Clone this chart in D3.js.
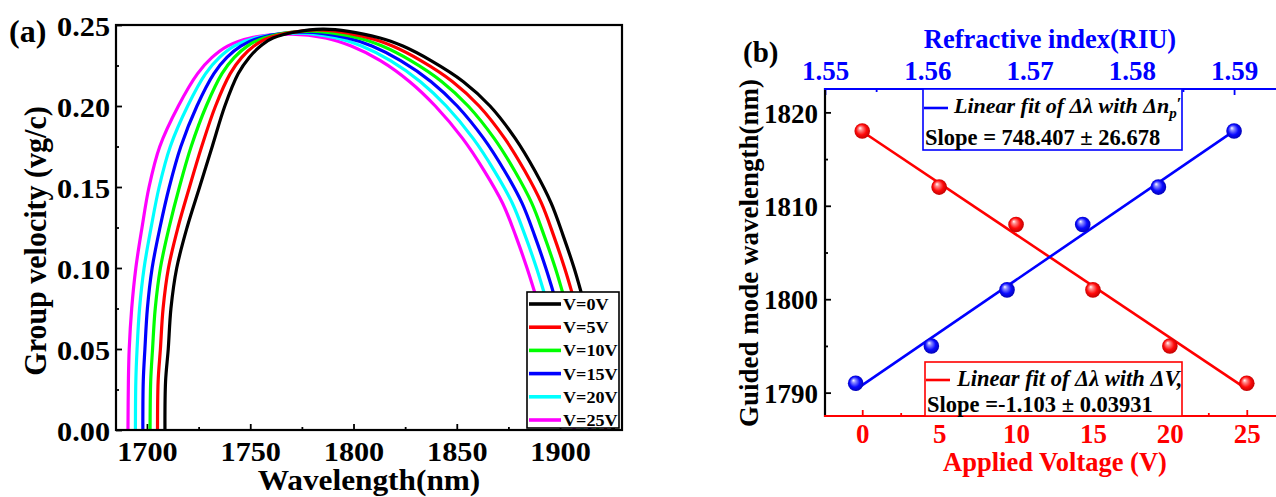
<!DOCTYPE html>
<html>
<head>
<meta charset="utf-8">
<script src="https://cdn.jsdelivr.net/npm/d3@7"></script>
<style>
  body { margin: 0; background: #fff; }
  svg text { font-family: "Liberation Serif", "Times New Roman", serif; font-weight: bold; }
</style>
</head>
<body>
<svg id="chart" width="1276" height="497"></svg>
<script>
// ---------- Panel (a): group velocity vs wavelength ----------
const seriesLabels = ["V=0V", "V=5V", "V=10V", "V=15V", "V=20V", "V=25V"];
const seriesColors = ["#000000", "#ff0000", "#00ff00", "#0000ff", "#00ffff", "#ff00ff"];

// group velocity levels sampled on the rising and falling branches
const vgRise = [0, 0.03, 0.05, 0.075, 0.10, 0.125, 0.15, 0.175, 0.20, 0.22, 0.23, 0.237, 0.242];
const vgFall = [0.242, 0.237, 0.228, 0.215, 0.20, 0.18, 0.16, 0.14, 0.12, 0.10, 0.086, 0.05, 0];

// wavelength (nm) at each rising-branch level
const riseNm0V  = [1708.7, 1709.0, 1710.3, 1711.6, 1714.4, 1719.4, 1725.5, 1731.6, 1737.7, 1744.2, 1749.5, 1755.0, 1761.0];
const riseNm5V  = [1705.1, 1705.4, 1706.5, 1707.8, 1710.4, 1715.0, 1720.6, 1726.5, 1733.2, 1740.3, 1745.9, 1751.8, 1758.8];
const riseNm10V = [1701.5, 1701.8, 1702.7, 1704.0, 1706.5, 1710.7, 1715.7, 1721.4, 1728.7, 1736.3, 1742.3, 1748.6, 1756.6];
const riseNm15V = [1698.0, 1698.2, 1699.0, 1700.2, 1702.5, 1706.3, 1710.8, 1716.4, 1724.2, 1732.4, 1738.7, 1745.4, 1754.4];
const riseNm20V = [1694.4, 1694.6, 1695.2, 1696.4, 1698.6, 1702.0, 1705.9, 1711.3, 1719.7, 1728.4, 1735.1, 1742.2, 1752.2];
const riseNm25V = [1690.8, 1691.0, 1691.4, 1692.6, 1694.6, 1697.6, 1701.0, 1706.2, 1715.2, 1724.5, 1731.5, 1739.0, 1750.0];

// peak of each curve
const peakNm = [1785, 1782, 1779, 1776, 1773, 1770];
const peakVg = [0.2475, 0.2469, 0.2462, 0.2456, 0.2449, 0.2443];

// wavelength (nm) at each falling-branch level
const fallNm0V  = [1812.9, 1823.9, 1837.5, 1853.2, 1866.1, 1878.3, 1887.8, 1895.7, 1901.5, 1906.8, 1910.0, 1917.5, 1926.0];
const fallNm5V  = [1807.6, 1818.9, 1832.6, 1848.0, 1860.8, 1873.2, 1882.9, 1891.0, 1896.9, 1902.2, 1905.5, 1913.3, 1922.2];
const fallNm10V = [1802.3, 1813.9, 1827.7, 1842.8, 1855.5, 1868.1, 1878.0, 1886.3, 1892.3, 1897.7, 1901.0, 1909.1, 1918.4];
const fallNm15V = [1797.0, 1808.9, 1822.8, 1837.6, 1850.2, 1863.0, 1873.1, 1881.6, 1887.7, 1893.1, 1896.5, 1904.9, 1914.6];
const fallNm20V = [1791.7, 1803.9, 1817.9, 1832.4, 1844.9, 1857.9, 1868.2, 1876.9, 1883.1, 1888.6, 1892.0, 1900.7, 1910.8];
const fallNm25V = [1786.4, 1798.9, 1813.0, 1827.2, 1839.6, 1852.8, 1863.3, 1872.2, 1878.5, 1884.0, 1887.5, 1896.5, 1907.0];

const riseNm = [riseNm0V, riseNm5V, riseNm10V, riseNm15V, riseNm20V, riseNm25V];
const fallNm = [fallNm0V, fallNm5V, fallNm10V, fallNm15V, fallNm20V, fallNm25V];

const vgTicks = [0, 0.05, 0.10, 0.15, 0.20, 0.25];
const vgMinor = [0.025, 0.075, 0.125, 0.175, 0.225];
const nmTicks = [1700, 1750, 1800, 1850, 1900];
const nmMinor = [1725, 1775, 1825, 1875, 1925];

// ---------- Panel (b): guided mode wavelength ----------
const appliedVoltage = [0, 5, 10, 15, 20, 25];
const wavelengthByVoltage = [1818, 1812, 1808, 1801, 1795, 1791];
const refractiveIndex = [1.5530, 1.5604, 1.5678, 1.5752, 1.5826, 1.5900];
const wavelengthByIndex = [1791, 1795, 1801, 1808, 1812, 1818];
const slopeVoltage = -1.103;
const slopeIndex = 748.407;

const voltageTicks = [0, 5, 10, 15, 20, 25];
const voltageMinor = [2.5, 7.5, 12.5, 17.5, 22.5];
const indexTicks = [1.55, 1.56, 1.57, 1.58, 1.59];
const indexMinor = [1.555, 1.565, 1.575, 1.585];
const guidedTicks = [1790, 1800, 1810, 1820];
const guidedMinor = [1795, 1805, 1815];

const svg = d3.select("#chart");
const defs = svg.append("defs");

// widen glyphs horizontally about their anchor point
function widen(sel, sx) {
  sel.each(function () {
    const t = d3.select(this);
    const x = +t.attr("x") || 0, y = +t.attr("y") || 0;
    t.attr("transform", `translate(${x},${y}) scale(${sx},1) translate(${-x},${-y})`);
  });
}

function tickAxis(g, gen, color, width) {
  g.call(gen);
  g.select(".domain").remove();
  g.selectAll(".tick line").attr("stroke", color).attr("stroke-width", width);
  g.selectAll(".tick text").attr("fill", color);
}

// =============== Panel (a) ===============
const xa = d3.scaleLinear().domain([1685, 1930]).range([116, 622]);
const ya = d3.scaleLinear().domain([0, 0.25]).range([430, 25]);
const A_SX = 1.08;

const pa = svg.append("g");

// minor ticks
pa.append("g").attr("transform", "translate(116,0)")
  .call(g => tickAxis(g, d3.axisLeft(ya).tickValues(vgMinor).tickSize(-3).tickFormat(""), "#000", 1.8));
pa.append("g").attr("transform", "translate(0,430)")
  .call(g => tickAxis(g, d3.axisBottom(xa).tickValues(nmMinor.filter(d => d < 1930)).tickSize(-3).tickFormat(""), "#000", 1.8));

// major ticks + labels
const yAxisA = pa.append("g").attr("transform", "translate(116,0)")
  .call(g => tickAxis(g, d3.axisLeft(ya).tickValues(vgTicks).tickSize(-6).tickPadding(6).tickFormat(d3.format(".2f")), "#000", 1.8));
yAxisA.selectAll(".tick text").attr("font-size", 28).attr("dy", "0.36em").call(widen, A_SX);

const xAxisA = pa.append("g").attr("transform", "translate(0,430)")
  .call(g => tickAxis(g, d3.axisBottom(xa).tickValues(nmTicks).tickSize(-6).tickFormat(d3.format("d")), "#000", 1.8));
xAxisA.selectAll(".tick text").attr("font-size", 28).attr("y", 31).attr("dy", 0).call(widen, A_SX);

// curves
const lineA = d3.line().x(d => xa(d[0])).y(d => ya(d[1])).curve(d3.curveCatmullRom.alpha(0.5));
const curves = seriesLabels.map((lab, i) => {
  const pts = riseNm[i].map((nm, k) => [nm, vgRise[k]]);
  pts.push([peakNm[i], peakVg[i]]);
  fallNm[i].forEach((nm, k) => pts.push([nm, vgFall[k]]));
  return { lab, color: seriesColors[i], pts };
});
pa.append("defs").append("clipPath").attr("id", "clipA")
  .append("rect").attr("x", 116).attr("y", 25).attr("width", 506).attr("height", 405);
pa.append("g").attr("clip-path", "url(#clipA)")
  .selectAll("path").data(curves.slice().reverse()).join("path")
  .attr("d", d => lineA(d.pts))
  .attr("fill", "none").attr("stroke", d => d.color).attr("stroke-width", 3.2);

// frame
pa.append("rect").attr("x", 116).attr("y", 25).attr("width", 506).attr("height", 405)
  .attr("fill", "none").attr("stroke", "#000").attr("stroke-width", 2.2);

// legend
const legA = pa.append("g");
legA.append("rect").attr("x", 527).attr("y", 292).attr("width", 92).attr("height", 136)
  .attr("fill", "#fff").attr("stroke", "#000").attr("stroke-width", 1.6);
seriesLabels.forEach((lab, i) => {
  const y = 304 + i * 23.2;
  legA.append("line").attr("x1", 529).attr("x2", 561).attr("y1", y).attr("y2", y)
    .attr("stroke", seriesColors[i]).attr("stroke-width", 3.6);
  legA.append("text").attr("x", 563).attr("y", y).attr("dy", "0.36em")
    .attr("font-size", 16.5).text(lab).call(widen, 1.1);
});

// titles
pa.append("text").attr("x", 9).attr("y", 42).attr("font-size", 32).text("(a)");
pa.append("text").attr("x", 369).attr("y", 490).attr("text-anchor", "middle")
  .attr("font-size", 29).text("Wavelength(nm)").call(widen, A_SX);
pa.append("text")
  .attr("transform", "translate(46,241) scale(1.08,1) rotate(-90)")
  .attr("text-anchor", "middle").attr("font-size", 30).text("Group velocity (vg/c)");

// =============== Panel (b) ===============
const xv = d3.scaleLinear().domain([-2.42, 26.9]).range([825, 1276]);
const xn = d3.scaleLinear().domain([1.55, 1.5941]).range([825, 1276]);
const yb = d3.scaleLinear().domain([1787.5, 1822.5]).range([416, 89]);
const RED = "#ff0000", BLUE = "#0000ff";

const pb = svg.append("g");

// left axis
pb.append("g").attr("transform", "translate(825,0)")
  .call(g => tickAxis(g, d3.axisLeft(yb).tickValues(guidedMinor).tickSize(-3).tickFormat(""), "#000", 1.8));
pb.append("g").attr("transform", "translate(825,0)")
  .call(g => tickAxis(g, d3.axisLeft(yb).tickValues(guidedTicks).tickSize(-6).tickPadding(7).tickFormat(d3.format("d")), "#000", 1.8))
  .selectAll(".tick text").attr("font-size", 27).attr("dy", "0.36em");

// bottom (voltage) axis
pb.append("g").attr("transform", "translate(0,416)")
  .call(g => tickAxis(g, d3.axisBottom(xv).tickValues(voltageMinor).tickSize(-3).tickFormat(""), RED, 1.8));
pb.append("g").attr("transform", "translate(0,416)")
  .call(g => tickAxis(g, d3.axisBottom(xv).tickValues(voltageTicks).tickSize(-6).tickFormat(d3.format("d")), RED, 1.8))
  .selectAll(".tick text").attr("font-size", 27).attr("y", 27).attr("dy", 0);

// top (refractive index) axis
pb.append("g").attr("transform", "translate(0,89)")
  .call(g => tickAxis(g, d3.axisTop(xn).tickValues(indexMinor).tickSize(-3).tickFormat(""), BLUE, 1.8));
pb.append("g").attr("transform", "translate(0,89)")
  .call(g => tickAxis(g, d3.axisTop(xn).tickValues(indexTicks).tickSize(-6).tickFormat(d3.format(".2f")), BLUE, 1.8))
  .selectAll(".tick text").attr("font-size", 27).attr("y", -9).attr("dy", 0);

// axis lines
pb.append("line").attr("x1", 825).attr("x2", 825).attr("y1", 88).attr("y2", 417)
  .attr("stroke", "#000").attr("stroke-width", 2.2);
pb.append("line").attr("x1", 824).attr("x2", 1276).attr("y1", 89).attr("y2", 89)
  .attr("stroke", BLUE).attr("stroke-width", 2.2);
pb.append("line").attr("x1", 824).attr("x2", 1276).attr("y1", 416).attr("y2", 416)
  .attr("stroke", RED).attr("stroke-width", 2.2);

// legend boxes
const legB1 = pb.append("g");
legB1.append("rect").attr("x", 923).attr("y", 89).attr("width", 259).attr("height", 61)
  .attr("fill", "#fff").attr("stroke", BLUE).attr("stroke-width", 1.6);
legB1.append("line").attr("x1", 924).attr("x2", 948).attr("y1", 108).attr("y2", 108)
  .attr("stroke", BLUE).attr("stroke-width", 2.6);
const tB1 = legB1.append("text").attr("x", 954).attr("y", 113).attr("font-size", 22).attr("font-style", "italic");
tB1.append("tspan").text("Linear fit of Δλ with Δn");
tB1.append("tspan").attr("font-size", 15).attr("dy", 5).text("p");
tB1.append("tspan").attr("font-size", 17).attr("dy", -9).attr("font-style", "normal").text("′");
legB1.append("text").attr("x", 925).attr("y", 145).attr("font-size", 22.5).text("Slope = 748.407 ± 26.678");

const legB2 = pb.append("g");
legB2.append("rect").attr("x", 925).attr("y", 362).attr("width", 257).attr("height", 54)
  .attr("fill", "#fff").attr("stroke", RED).attr("stroke-width", 1.6);
legB2.append("line").attr("x1", 926).attr("x2", 950).attr("y1", 380).attr("y2", 380)
  .attr("stroke", RED).attr("stroke-width", 2.6);
legB2.append("text").attr("x", 957).attr("y", 386).attr("font-size", 22.5).attr("font-style", "italic")
  .text("Linear fit of Δλ with ΔV,");
legB2.append("text").attr("x", 927).attr("y", 412).attr("font-size", 22.5).text("Slope =-1.103 ± 0.03931");

// fit lines with the stated slopes, through the centroid of the points
const fitV = x => d3.mean(wavelengthByVoltage) + slopeVoltage * (x - d3.mean(appliedVoltage));
const fitN = x => d3.mean(wavelengthByIndex) + slopeIndex * (x - d3.mean(refractiveIndex));
const vExt = d3.extent(appliedVoltage), nExt = d3.extent(refractiveIndex);

pb.append("line")
  .attr("x1", xv(vExt[0])).attr("y1", yb(fitV(vExt[0])))
  .attr("x2", xv(vExt[1])).attr("y2", yb(fitV(vExt[1])))
  .attr("stroke", RED).attr("stroke-width", 2.6);
pb.append("line")
  .attr("x1", xn(nExt[0])).attr("y1", yb(fitN(nExt[0])))
  .attr("x2", xn(nExt[1])).attr("y2", yb(fitN(nExt[1])))
  .attr("stroke", BLUE).attr("stroke-width", 2.6);

// shaded sphere markers
function sphere(id, light, mid, dark) {
  const g = defs.append("radialGradient").attr("id", id)
    .attr("cx", "50%").attr("cy", "50%").attr("r", "55%").attr("fx", "35%").attr("fy", "30%");
  g.append("stop").attr("offset", "0%").attr("stop-color", "#ffffff");
  g.append("stop").attr("offset", "22%").attr("stop-color", light);
  g.append("stop").attr("offset", "60%").attr("stop-color", mid);
  g.append("stop").attr("offset", "100%").attr("stop-color", dark);
}
sphere("ballRed", "#ff8c8c", "#ff0a0a", "#b40000");
sphere("ballBlue", "#8c8cff", "#0a0aff", "#0000a8");

pb.append("g").selectAll("circle").data(appliedVoltage).join("circle")
  .attr("cx", d => xv(d)).attr("cy", (d, i) => yb(wavelengthByVoltage[i])).attr("r", 7.8)
  .attr("fill", "url(#ballRed)");
pb.append("g").selectAll("circle").data(refractiveIndex).join("circle")
  .attr("cx", d => xn(d)).attr("cy", (d, i) => yb(wavelengthByIndex[i])).attr("r", 7.8)
  .attr("fill", "url(#ballBlue)");

// titles
pb.append("text").attr("x", 743).attr("y", 62).attr("font-size", 29).text("(b)");
pb.append("text").attr("x", 1050).attr("y", 48).attr("text-anchor", "middle")
  .attr("font-size", 26.5).attr("fill", BLUE).text("Refractive index(RIU)");
pb.append("text").attr("x", 1055).attr("y", 471).attr("text-anchor", "middle")
  .attr("font-size", 26.5).attr("fill", RED).text("Applied Voltage (V)");
pb.append("text").attr("transform", "translate(758,253) rotate(-90)")
  .attr("text-anchor", "middle").attr("font-size", 27).text("Guided mode wavelength(nm)");
</script>
</body>
</html>
